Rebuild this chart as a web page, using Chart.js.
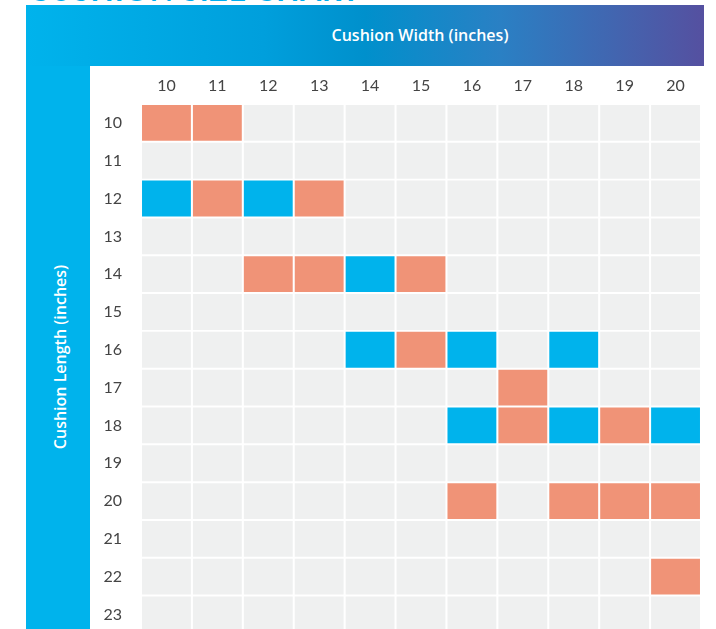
<!DOCTYPE html>
<html lang="en">
<head>
  <meta charset="UTF-8" />
  <title>Cushion Size Chart</title>
  <script src="https://cdn.jsdelivr.net/npm/chart.js"></script>
  <style>
    body {
      margin: 0;
      width: 716px;
      height: 629px;
      overflow: hidden;
      background: #fff;
      font-family: Lato, "Open Sans", sans-serif;
      position: relative;
    }
    .title {
      position: absolute;
      left: 29px;
      top: -26px;
      font-size: 30px;
      line-height: 30px;
      font-weight: 700;
      color: #00aeef;
      letter-spacing: 1px;
    }
    .top-band {
      position: absolute;
      left: 26px;
      top: 5px;
      width: 678px;
      height: 61px;
      background: linear-gradient(to right, #00b3ec 0%, #009fdc 35%, #0090cc 50%, #2a80c4 70%, #5550a0 100%);
    }
    .top-band span {
      position: absolute;
      left: 394px;
      top: 19px;
      width: 0;
      white-space: nowrap;
      color: #fff;
      font-family: "Open Sans", sans-serif;
      font-size: 16px;
      font-weight: 600;
      display: flex;
      justify-content: center;
    }
    .side-band {
      position: absolute;
      left: 26px;
      top: 66px;
      width: 64px;
      height: 600px;
      background: #00b3ec;
    }
    .side-band span {
      position: absolute;
      left: 34px;
      top: 291px;
      white-space: nowrap;
      color: #fff;
      font-family: "Open Sans", sans-serif;
      font-size: 16px;
      font-weight: 600;
      transform: translate(-50%, -50%) rotate(-90deg);
    }
    .chart-box {
      position: absolute;
      left: 90px;
      top: 66px;
      width: 626px;
      height: 596px;
    }
  </style>
</head>
<body>
  <div class="title">CUSHION SIZE CHART</div>
  <div class="top-band"><span>Cushion Width (inches)</span></div>
  <div class="side-band"><span>Cushion Length (inches)</span></div>
  <div class="chart-box"><canvas id="sizeChart"></canvas></div>

  <script>
    // cushion widths across the top, lengths down the side
    const widths = [10, 11, 12, 13, 14, 15, 16, 17, 18, 19, 20];
    const lengths = [10, 11, 12, 13, 14, 15, 16, 17, 18, 19, 20, 21, 22, 23];

    // [width, length] pairs
    const orangeCells = [
      [10, 10], [11, 10],
      [11, 12], [13, 12],
      [12, 14], [13, 14], [15, 14],
      [15, 16],
      [17, 17],
      [17, 18], [19, 18],
      [16, 20], [18, 20], [19, 20], [20, 20],
      [20, 22]
    ];
    const blueCells = [
      [10, 12], [12, 12],
      [14, 14],
      [14, 16], [16, 16], [18, 16],
      [16, 18], [18, 18], [20, 18]
    ];

    const GRAY = '#eff0f0';
    const ORANGE = '#f09377';
    const BLUE = '#00b3ec';

    function cellColor(w, l) {
      if (orangeCells.some(c => c[0] === w && c[1] === l)) return ORANGE;
      if (blueCells.some(c => c[0] === w && c[1] === l)) return BLUE;
      return GRAY;
    }

    const datasets = lengths.map(l => ({
      label: 'Length ' + l,
      data: widths.map(w => ({ x: String(w), y: [l - 0.474, l + 0.474] })),
      backgroundColor: widths.map(w => cellColor(w, l)),
      borderWidth: 0,
      categoryPercentage: 1,
      barPercentage: 0.96,
      grouped: false
    }));

    const chart = new Chart(document.getElementById('sizeChart'), {
      type: 'bar',
      data: {
        labels: widths.map(String),
        datasets: datasets
      },
      options: {
        responsive: true,
        maintainAspectRatio: false,
        animation: false,
        layout: { padding: { right: 15, bottom: 0, top: 0, left: 0 } },
        plugins: {
          legend: { display: false },
          tooltip: { enabled: false }
        },
        scales: {
          x: {
            position: 'top',
            offset: true,
            grid: { display: false, drawTicks: false },
            border: { display: false },
            ticks: {
              padding: 9,
              color: '#444',
              font: { family: 'Lato', size: 16 }
            },
            afterFit(axis) { axis.height = 38; }
          },
          y: {
            type: 'linear',
            reverse: true,
            min: 9.5,
            max: 23.5,
            grid: { display: false, drawTicks: false },
            border: { display: false },
            afterBuildTicks(axis) {
              axis.ticks = lengths.map(v => ({ value: v }));
            },
            ticks: {
              padding: 19,
              crossAlign: 'center',
              color: '#444',
              font: { family: 'Lato', size: 16 }
            },
            afterFit(axis) { axis.width = 51; }
          }
        }
      }
    });
  </script>
</body>
</html>
